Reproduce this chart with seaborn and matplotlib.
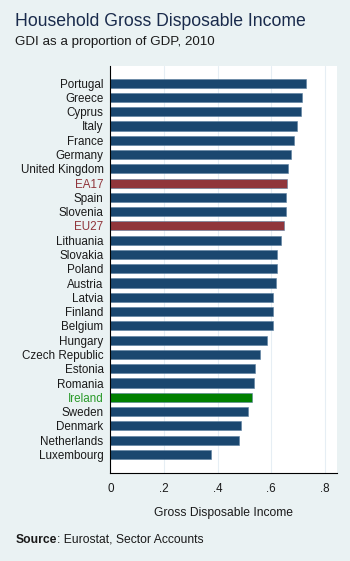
import pandas as pd
import matplotlib.pyplot as plt
import seaborn as sns

# Data
countries = ['Portugal', 'Greece', 'Cyprus', 'Italy', 'France', 'Germany',
             'United Kingdom', 'EA17', 'Spain', 'Slovenia', 'EU27', 'Lithuania',
             'Slovakia', 'Poland', 'Austria', 'Latvia', 'Finland', 'Belgium',
             'Hungary', 'Czech Republic', 'Estonia', 'Romania', 'Ireland',
             'Sweden', 'Denmark', 'Netherlands', 'Luxembourg']
gdi_share = [0.728, 0.715, 0.711, 0.695, 0.684, 0.674, 0.664, 0.657, 0.654,
             0.654, 0.649, 0.636, 0.623, 0.622, 0.619, 0.605, 0.605, 0.605,
             0.584, 0.557, 0.540, 0.537, 0.529, 0.512, 0.488, 0.478, 0.375]
xticks = [0, 0.2, 0.4, 0.6, 0.8]
xtick_labels = ['0', '.2', '.4', '.6', '.8']

navy = '#1a476f'
maroon = '#90353b'
green = '#008000'
bg = '#eaf2f3'

bar_colors = {c: navy for c in countries}
bar_colors['EA17'] = maroon
bar_colors['EU27'] = maroon
bar_colors['Ireland'] = green
label_colors = {c: '#1a1a1a' for c in countries}
label_colors['EA17'] = maroon
label_colors['EU27'] = maroon
label_colors['Ireland'] = '#2a9a2a'

df = pd.DataFrame({'country': countries, 'gdi': gdi_share})

sns.set_style('white')
plt.rcParams['font.family'] = ['Liberation Sans', 'DejaVu Sans']

fig = plt.figure(figsize=(3.5, 5.61), dpi=100)
fig.patch.set_facecolor(bg)
ax = fig.add_axes([0.3157, 0.1569, 0.647, 0.7255])
ax.set_facecolor('white')

sns.barplot(data=df, x='gdi', y='country', hue='country', palette=bar_colors,
            legend=False, width=0.64, orient='h', ax=ax, saturation=1,
            edgecolor='#5a7fa0', linewidth=0.4)

ax.set_xlim(0, 0.845)
ax.set_ylim(len(countries) - 1 + 1.3, -1.2)
ax.set_xticks(xticks)
ax.set_xticklabels(xtick_labels, fontsize=8.4, color='#1a1a1a')
ax.xaxis.grid(True, color='#e6eef4', linewidth=0.8)
ax.set_axisbelow(True)
ax.tick_params(axis='x', length=4, width=0.8, color='black', pad=3)
ax.tick_params(axis='y', length=0, pad=5)
for lab in ax.get_yticklabels():
    lab.set_fontsize(8.4)
    lab.set_color(label_colors[lab.get_text()])

for side in ['top', 'right']:
    ax.spines[side].set_visible(False)
for side in ['left', 'bottom']:
    ax.spines[side].set_color('black')
    ax.spines[side].set_linewidth(0.8)

ax.set_ylabel('')
ax.set_xlabel('Gross Disposable Income', fontsize=8.7, color='#1a1a1a', labelpad=9)

fig.text(15 / 350, 1 - 22 / 561, 'Household Gross Disposable Income',
         fontsize=12.7, color='#1a2b4c', va='center', ha='left')
fig.text(15 / 350, 1 - 42 / 561, 'GDI as a proportion of GDP, 2010',
         fontsize=9.6, color='#1a1a1a', va='center', ha='left')

# "Source" in bold, rest of the note in regular weight right after it
src = fig.text(16 / 350, 1 - 543 / 561, 'Source', fontsize=8.7, fontweight='bold',
               color='#1a1a1a', va='baseline', ha='left')
fig.canvas.draw()
bb = src.get_window_extent().transformed(fig.transFigure.inverted())
fig.text(bb.x1, 1 - 543 / 561, ': Eurostat, Sector Accounts', fontsize=8.7,
         color='#1a1a1a', va='baseline', ha='left')

fig.savefig('out.png', dpi=100, facecolor=bg)
